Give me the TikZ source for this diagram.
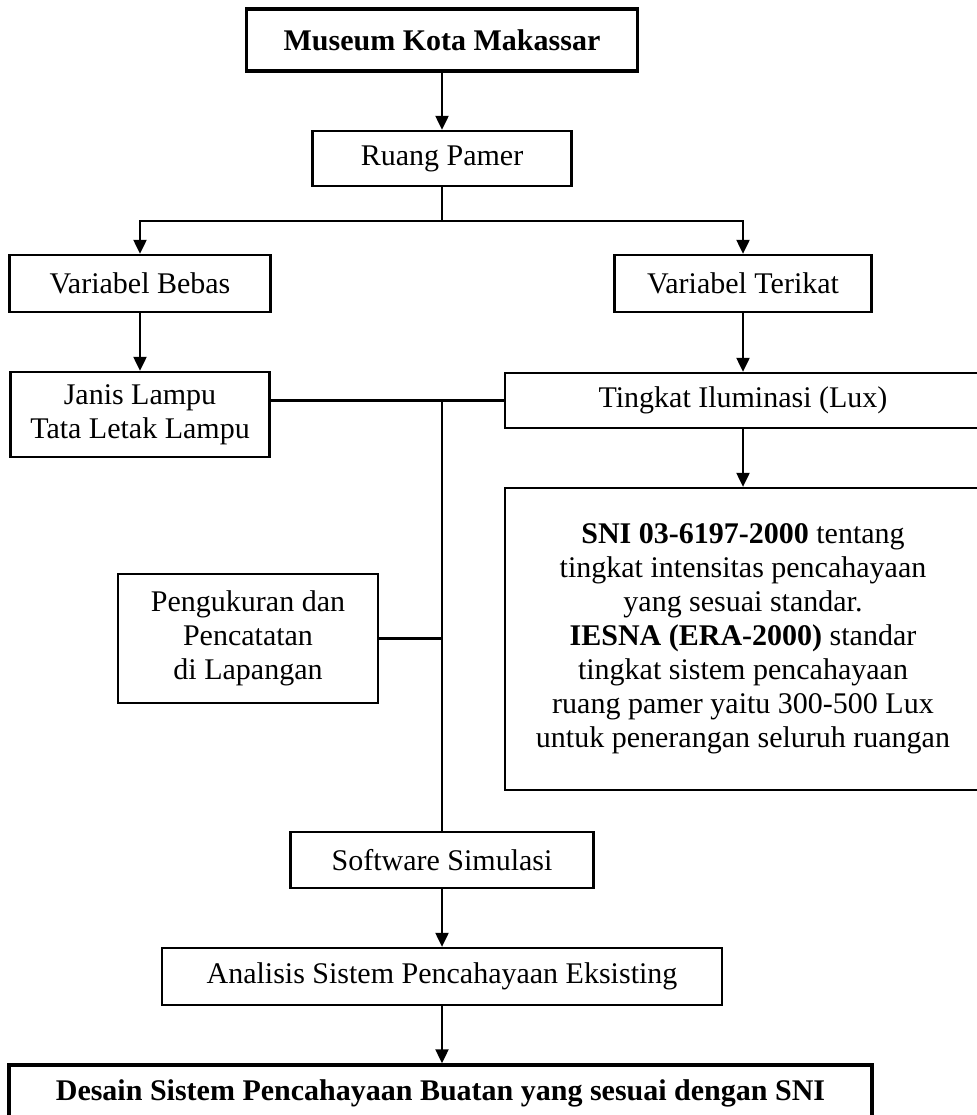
\documentclass[tikz,border=0pt]{standalone}
\usepackage{fontspec}
\setmainfont{Liberation Serif}
\usepackage{tikz}
\usetikzlibrary{arrows.meta}

\begin{document}
\begin{tikzpicture}[
        x=1pt, y=-1pt,
        block/.style={draw, line width=2.3pt, inner sep=0pt, align=center,
                      font=\fontsize{30}{34}\selectfont},
        mainblock/.style={block, line width=3.4pt, font=\fontsize{30}{34}\selectfont\bfseries},
        link/.style={line width=2.1pt},
        arrow/.style={link, -{Triangle[length=14pt,width=13pt]}},
    ]
        \useasboundingbox (0,0) rectangle (976,1115);

        % Nodes
        \node[mainblock, minimum width=391pt, minimum height=62pt] (museum) at (442,40)
              {Museum Kota Makassar};
        \node[block, minimum width=259pt, minimum height=55pt] (ruang) at (442,158.5)
              {Ruang Pamer};
        \node[block, minimum width=261pt, minimum height=57pt] (bebas) at (140,283.5)
              {Variabel Bebas};
        \node[block, minimum width=257pt, minimum height=57pt] (terikat) at (743,283.5)
              {Variabel Terikat};
        \node[block, minimum width=259pt, minimum height=85pt] (janis) at (140,414.5)
              {Janis Lampu\\Tata Letak Lampu};
        \node[block, minimum width=476pt, minimum height=55pt] (tingkat) at (743,400.5)
              {Tingkat Iluminasi (Lux)};
        \node[block, minimum width=476pt, minimum height=302pt] (sni) at (743,639)
              {\textbf{SNI 03-6197-2000} tentang\\tingkat intensitas pencahayaan\\
               yang sesuai standar.\\\textbf{IESNA (ERA-2000)} standar\\
               tingkat sistem pencahayaan\\ruang pamer yaitu 300-500 Lux\\
               untuk penerangan seluruh ruangan};
        \node[block, minimum width=260pt, minimum height=129pt] (ukur) at (248,638.5)
              {Pengukuran dan\\Pencatatan\\di Lapangan};
        \node[block, minimum width=303pt, minimum height=56pt] (software) at (442,860)
              {Software Simulasi};
        \node[block, minimum width=560pt, minimum height=57pt] (analisis) at (442,976.5)
              {Analisis Sistem Pencahayaan Eksisting};
        \node[mainblock, minimum width=863pt, minimum height=56pt] (desain) at (440.5,1093)
              {Desain Sistem Pencahayaan Buatan yang sesuai dengan SNI};
        \coordinate (fork) at (442,221);

        % Arrows
        \draw[arrow] (museum) -- (ruang);
        \draw[link]  (ruang) -- (fork);
        \draw[arrow] (fork) -| (bebas);
        \draw[arrow] (fork) -| (terikat);
        \draw[arrow] (bebas) -- (janis);
        \draw[arrow] (terikat) -- (tingkat);
        \draw[link]  (janis.east |- tingkat.west) -- (tingkat.west);
        \draw[link]  (software.north |- tingkat.west) -- (software.north);
        \draw[link]  (ukur.east) -- (ukur.east -| software.north);
        \draw[arrow] (tingkat) -- (sni);
        \draw[arrow] (software) -- (analisis);
        \draw[arrow] (analisis.south) -- (analisis.south |- desain.north);
    \end{tikzpicture}
\end{document}
